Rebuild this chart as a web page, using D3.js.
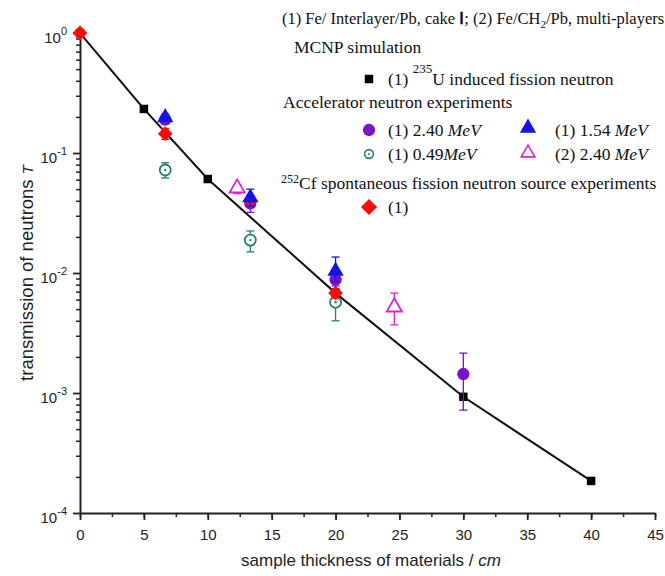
<!DOCTYPE html>
<html>
<head>
<meta charset="utf-8">
<script src="https://cdn.jsdelivr.net/npm/d3@7"></script>
<style>
  body { margin: 0; background: #fff; }
  svg { display: block; }
</style>
</head>
<body>
<svg width="665" height="576"></svg>
<script>
// MCNP simulation, (1) 235U induced fission neutron
var mcnpX = [0, 5, 10, 20, 30, 40];
var mcnpT = [1.0, 0.233, 0.0607, 0.0068, 0.00093, 0.000185];

// accelerator neutron experiments
var acc240X = [6.67, 13.33, 20, 30];
var acc240T = [0.19, 0.038, 0.0088, 0.00144];
var acc240Lo = [0.175, 0.032, 0.0078, 0.00072];
var acc240Hi = [0.205, 0.044, 0.0100, 0.00215];

var acc154X = [6.67, 13.33, 20];
var acc154T = [0.198, 0.0425, 0.0104];
var acc154Lo = [0.185, 0.036, 0.0085];
var acc154Hi = [0.212, 0.050, 0.0136];

var acc049X = [6.67, 13.33, 20];
var acc049T = [0.0722, 0.0188, 0.0057];
var acc049Lo = [0.062, 0.015, 0.0040];
var acc049Hi = [0.083, 0.0224, 0.0070];

var multi240X = [12.3, 24.6];
var multi240T = [0.051, 0.0052];
var multi240Lo = [0.046, 0.0037];
var multi240Hi = [0.054, 0.0068];

// 252Cf spontaneous fission neutron source experiments
var cfX = [0, 6.67, 13.33, 20];
var cfT = [1.0, 0.145, 0.040, 0.0068];
var cfLo = [0.97, 0.130, 0.036, 0.0062];
var cfHi = [1.03, 0.160, 0.044, 0.0074];

var xTicks = [0, 5, 10, 15, 20, 25, 30, 35, 40, 45];
var yDecades = [1, 0.1, 0.01, 0.001, 0.0001];

var svg = d3.select("svg");

var x = d3.scaleLinear().domain([0, 45]).range([80, 655]);
var y = d3.scaleLog().domain([1e-4, 1.06]).range([513, 30]);

// x axis
var xMinor = d3.range(0, 45.1, 2.5);
svg.append("g")
    .attr("transform", "translate(0,513)")
    .call(d3.axisBottom(x).tickValues(xMinor).tickSize(4).tickFormat(""))
    .call(function (g) { g.select(".domain").remove(); })
    .selectAll("line").attr("stroke", "#222").attr("stroke-width", 1.5);

var gx = svg.append("g")
    .attr("transform", "translate(0,513)")
    .call(d3.axisBottom(x).tickValues(xTicks).tickSize(7).tickSizeOuter(0).tickPadding(9));
gx.select(".domain").attr("stroke", "#222").attr("stroke-width", 2);
gx.selectAll("line").attr("stroke", "#222").attr("stroke-width", 1.8);
gx.selectAll("text")
    .attr("font-family", "Liberation Sans, Arial, sans-serif")
    .attr("font-size", 15)
    .attr("fill", "#222");

// y axis minor ticks
var yMinor = [];
[1e-4, 1e-3, 1e-2, 1e-1].forEach(function (d) {
    for (var k = 2; k <= 9; k++) yMinor.push(d * k);
});
svg.append("g")
    .attr("transform", "translate(80,0)")
    .call(d3.axisLeft(y).tickValues(yMinor).tickSize(4).tickFormat(""))
    .call(function (g) { g.select(".domain").remove(); })
    .selectAll("line").attr("stroke", "#222").attr("stroke-width", 1.5);

var gy = svg.append("g")
    .attr("transform", "translate(80,0)")
    .call(d3.axisLeft(y).tickValues(yDecades).tickSize(7).tickSizeOuter(0).tickPadding(6));
gy.select(".domain").attr("stroke", "#222").attr("stroke-width", 2);
gy.selectAll("line").attr("stroke", "#222").attr("stroke-width", 1.8);
gy.selectAll(".tick text")
    .attr("font-family", "Liberation Sans, Arial, sans-serif")
    .attr("font-size", 15)
    .attr("fill", "#222")
    .attr("dy", "0.6em")
    .text(null)
    .each(function (d) {
        var t = d3.select(this);
        t.append("tspan").text("10");
        t.append("tspan").attr("dy", "-0.65em").attr("font-size", 11)
            .text(String(Math.round(Math.log10(d))));
    });

// axis titles
var xt = svg.append("text")
    .attr("x", 371).attr("y", 566)
    .attr("text-anchor", "middle")
    .attr("font-family", "Liberation Sans, Arial, sans-serif")
    .attr("font-size", 17).attr("fill", "#222");
xt.append("tspan").text("sample thickness of materials / ");
xt.append("tspan").attr("font-style", "italic").text("cm");

var yt = svg.append("text")
    .attr("transform", "translate(33,273) rotate(-90)")
    .attr("text-anchor", "middle")
    .attr("font-family", "Liberation Sans, Arial, sans-serif")
    .attr("font-size", 18.5).attr("fill", "#222");
yt.append("tspan").text("transmission of  neutrons ");
yt.append("tspan").attr("font-style", "italic").attr("font-size", 15).text("T");

// MCNP line
var line = d3.line()
    .x(function (d) { return x(d[0]); })
    .y(function (d) { return y(d[1]); });
svg.append("path")
    .datum(d3.zip(mcnpX, mcnpT))
    .attr("d", line)
    .attr("fill", "none")
    .attr("stroke", "#111")
    .attr("stroke-width", 2);

function errorBars(xs, lo, hi, color) {
    var g = svg.append("g").attr("stroke", color).attr("stroke-width", 1.3);
    xs.forEach(function (xv, i) {
        var px = x(xv);
        g.append("line").attr("x1", px).attr("x2", px).attr("y1", y(lo[i])).attr("y2", y(hi[i]));
        g.append("line").attr("x1", px - 4).attr("x2", px + 4).attr("y1", y(lo[i])).attr("y2", y(lo[i]));
        g.append("line").attr("x1", px - 4).attr("x2", px + 4).attr("y1", y(hi[i])).attr("y2", y(hi[i]));
    });
}

// square rotated by 45 degrees
var squareDiamond = {
    draw: function (ctx, size) {
        var r = Math.sqrt(size / 2);
        ctx.moveTo(0, -r); ctx.lineTo(r, 0); ctx.lineTo(0, r); ctx.lineTo(-r, 0); ctx.closePath();
    }
};

function markers(xs, ts, type, size, fill, stroke, sw) {
    svg.append("g").selectAll("path")
        .data(d3.zip(xs, ts))
        .join("path")
        .attr("transform", function (d) { return "translate(" + x(d[0]) + "," + y(d[1]) + ")"; })
        .attr("d", d3.symbol().type(type).size(size))
        .attr("fill", fill)
        .attr("stroke", stroke)
        .attr("stroke-width", sw || 0);
}

var cPurple = "#7a14c8", cBlue = "#1414e6", cGreen = "#24806f", cMag = "#e020d8", cRed = "#ff0a0a";

markers(mcnpX, mcnpT, d3.symbolSquare, 72, "#000", "none");

errorBars(acc049X, acc049Lo, acc049Hi, cGreen);
markers(acc049X, acc049T, d3.symbolCircle, 95, "#fff", cGreen, 1.8);
svg.append("g").selectAll("circle")
    .data(d3.zip(acc049X, acc049T))
    .join("circle")
    .attr("cx", function (d) { return x(d[0]); })
    .attr("cy", function (d) { return y(d[1]); })
    .attr("r", 1.2).attr("fill", cGreen);

errorBars(multi240X, multi240Lo, multi240Hi, cMag);
markers(multi240X, multi240T, d3.symbolTriangle, 100, "#fff", cMag, 1.8);

errorBars(acc240X, acc240Lo, acc240Hi, cPurple);
markers(acc240X, acc240T, d3.symbolCircle, 120, cPurple, "none");

errorBars(cfX, cfLo, cfHi, cRed);
markers(cfX, cfT, squareDiamond, 110, cRed, "none");

errorBars(acc154X, acc154Lo, acc154Hi, cBlue);
markers(acc154X, acc154T, d3.symbolTriangle, 115, cBlue, "none");

// legend
var serif = "Liberation Serif, Times New Roman, serif";
function ltext(px, py, size) {
    return svg.append("text").attr("x", px).attr("y", py)
        .attr("font-family", serif).attr("font-size", size || 17.5).attr("fill", "#111");
}

var l1 = ltext(282, 24, 16.5);
l1.append("tspan").text("(1) Fe/ Interlayer/Pb, cake ");
l1.append("tspan").attr("font-weight", "bold").text("Ⅰ");
l1.append("tspan").text("; (2) Fe/CH");
l1.append("tspan").attr("dy", 4).attr("font-size", 11).text("2");
l1.append("tspan").attr("dy", -4).text("/Pb, multi-players");

ltext(294, 53).text("MCNP simulation");

svg.append("path").attr("transform", "translate(369,79)")
    .attr("d", d3.symbol().type(d3.symbolSquare).size(72)).attr("fill", "#000");
var l3 = ltext(388, 85);
l3.append("tspan").text("(1)  ");
l3.append("tspan").attr("dy", -12).attr("font-size", 13).text("235");
l3.append("tspan").attr("dy", 12).text("U  induced fission neutron");

ltext(283, 108).text("Accelerator neutron experiments");

function lmark(px, py, type, size, fill, stroke, sw) {
    svg.append("path").attr("transform", "translate(" + px + "," + py + ")")
        .attr("d", d3.symbol().type(type).size(size))
        .attr("fill", fill).attr("stroke", stroke).attr("stroke-width", sw || 0);
}
function energy(px, py, pre) {
    var t = ltext(px, py);
    t.append("tspan").text(pre);
    t.append("tspan").attr("font-style", "italic").text("MeV");
}

lmark(369, 130, d3.symbolCircle, 120, cPurple, "none");
energy(388, 136, "(1) 2.40 ");
lmark(528, 128, d3.symbolTriangle, 115, cBlue, "none");
energy(555, 136, "(1) 1.54 ");

lmark(369, 154, d3.symbolCircle, 60, "#fff", cGreen, 1.6);
svg.append("circle").attr("cx", 369).attr("cy", 154).attr("r", 1).attr("fill", cGreen);
energy(388, 160, "(1) 0.49");
lmark(528, 153, d3.symbolTriangle, 80, "#fff", cMag, 1.6);
energy(555, 160, "(2) 2.40 ");

var l7 = ltext(281, 189);
l7.append("tspan").attr("dy", -6).attr("font-size", 12).text("252");
l7.append("tspan").attr("dy", 6).text("Cf spontaneous fission neutron source experiments");

lmark(369, 207, squareDiamond, 130, cRed, "none");
ltext(388, 213).text("(1)");
</script>
</body>
</html>
